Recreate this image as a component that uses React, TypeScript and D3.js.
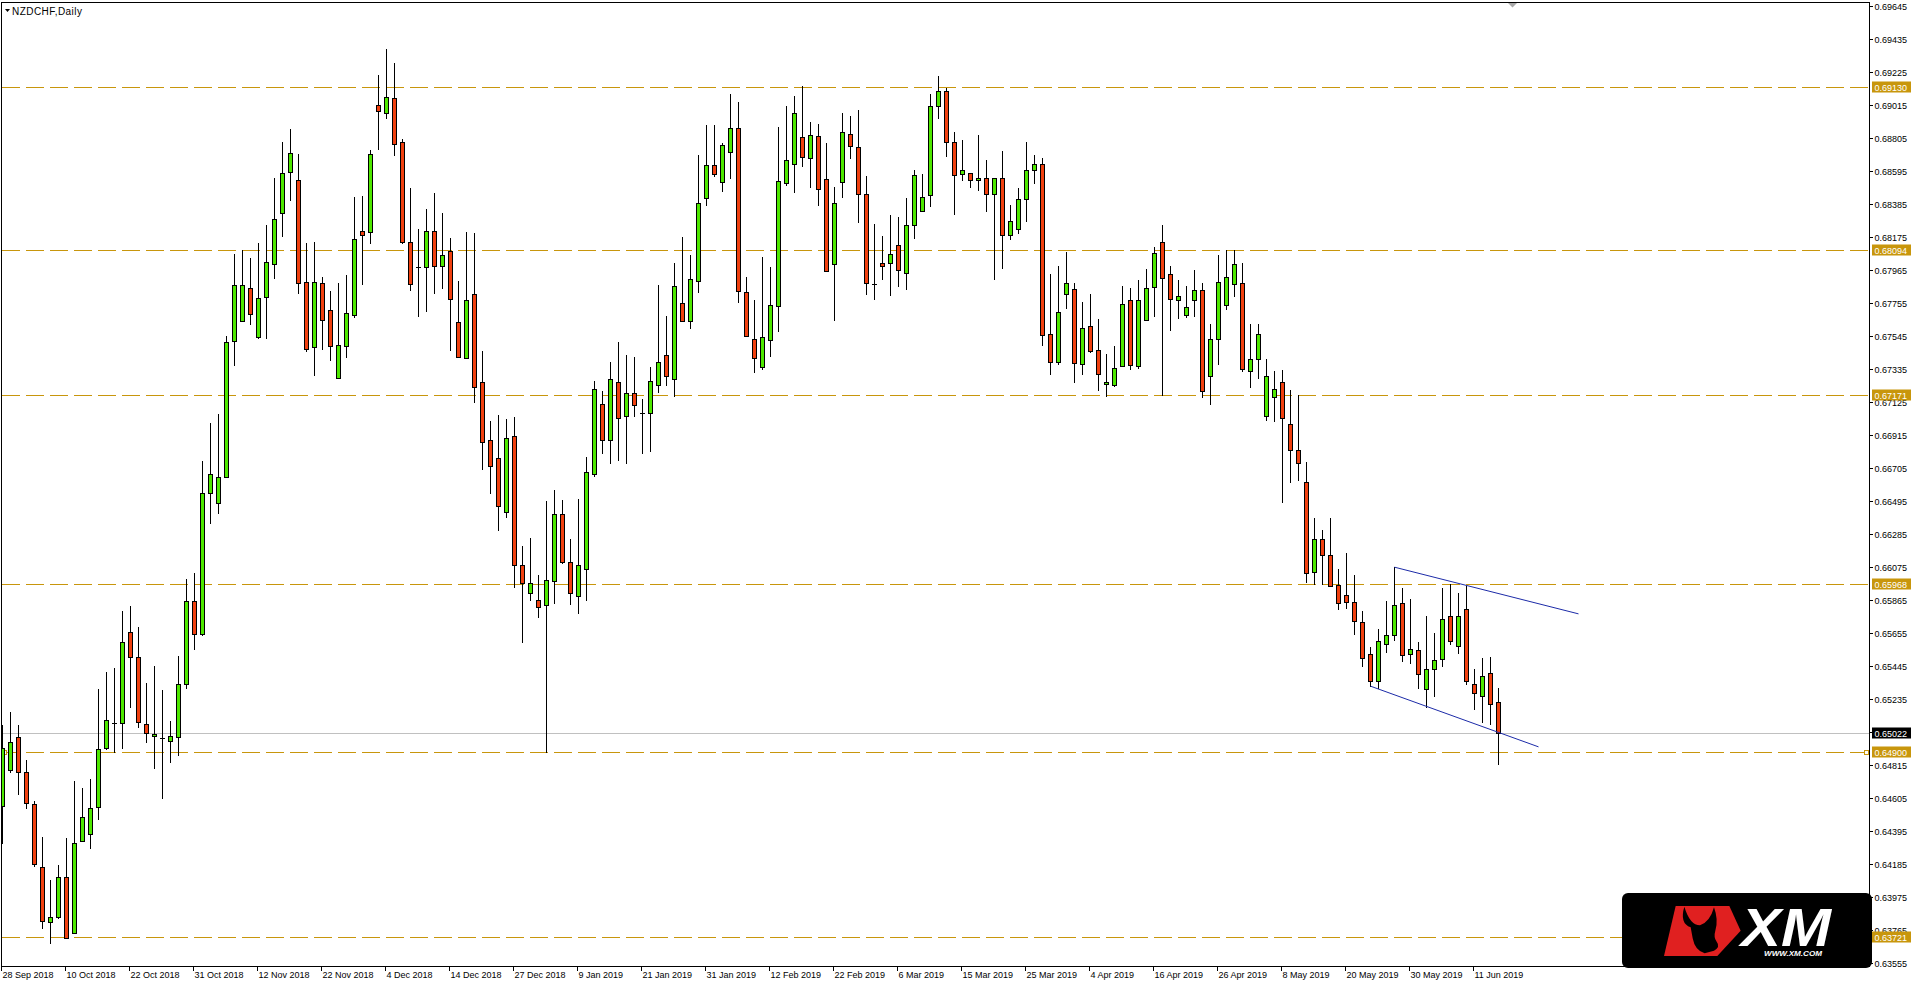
import React from 'react';
import * as d3 from 'd3';

// NZDCHF daily candles, 28 Sep 2018 .. 14 Jun 2019
const opens = [
  0.64557, 0.64785, 0.64995, 0.64773, 0.64569, 0.64168, 0.63818, 0.63847, 0.64104, 0.63750,
  0.64335, 0.64379, 0.64548, 0.64922, 0.65083, 0.65083, 0.65665, 0.65505, 0.65077, 0.65001,
  0.64987, 0.64970, 0.64995, 0.65332, 0.65858, 0.65650, 0.66548, 0.66483, 0.66650, 0.67512,
  0.67644, 0.67854, 0.67539, 0.67793, 0.68003, 0.68327, 0.68587, 0.68535, 0.67892, 0.67475,
  0.67886, 0.67714, 0.67276, 0.67483, 0.67682, 0.68213, 0.68205, 0.69013, 0.68967, 0.69060,
  0.68780, 0.68143, 0.67983, 0.67986, 0.68213, 0.67994, 0.68088, 0.67635, 0.67407, 0.67816,
  0.67250, 0.66882, 0.66768, 0.66429, 0.66907, 0.66090, 0.65913, 0.65869, 0.65832, 0.65989,
  0.66414, 0.66109, 0.65894, 0.66065, 0.66669, 0.67114, 0.66885, 0.67254, 0.67036, 0.67184,
  0.67053, 0.67058, 0.67232, 0.67425, 0.67274, 0.67758, 0.67644, 0.67898, 0.68425, 0.68635,
  0.68525, 0.68718, 0.68867, 0.67828, 0.67527, 0.67349, 0.67520, 0.67737, 0.68519, 0.68640,
  0.68812, 0.68678, 0.68818, 0.68545, 0.68004, 0.68526, 0.68831, 0.68748, 0.68449, 0.67877,
  0.68010, 0.68010, 0.68125, 0.67947, 0.68252, 0.68341, 0.68443, 0.69009, 0.69105, 0.68780,
  0.68577, 0.68583, 0.68538, 0.68551, 0.68449, 0.68551, 0.68189, 0.68225, 0.68420, 0.68600,
  0.68640, 0.67560, 0.67379, 0.67814, 0.67846, 0.67367, 0.67611, 0.67458, 0.67242, 0.67235,
  0.67356, 0.67776, 0.67356, 0.67649, 0.67859, 0.68145, 0.67941, 0.67776, 0.67680, 0.67776,
  0.67840, 0.67292, 0.67528, 0.67744, 0.67878, 0.67884, 0.67324, 0.67401, 0.67037, 0.67158,
  0.67250, 0.66986, 0.66821, 0.66617, 0.66045, 0.66255, 0.66153, 0.65964, 0.65899, 0.65854,
  0.65727, 0.65523, 0.65352, 0.65585, 0.65644, 0.65848, 0.65523, 0.65549, 0.65301, 0.65428,
  0.65491, 0.65767, 0.65574, 0.65810, 0.65332, 0.65256, 0.65402, 0.65218,
];

const highs = [
  0.65069, 0.65156, 0.65069, 0.64849, 0.64586, 0.64361, 0.64086, 0.64183, 0.64352, 0.64712,
  0.64668, 0.64730, 0.65297, 0.65405, 0.65434, 0.65794, 0.65829, 0.65692, 0.65338, 0.65449,
  0.65291, 0.65095, 0.65507, 0.65998, 0.66036, 0.66749, 0.66992, 0.67047, 0.67547, 0.68065,
  0.68094, 0.68041, 0.68140, 0.68254, 0.68552, 0.68777, 0.68865, 0.68701, 0.68140, 0.68146,
  0.67924, 0.67831, 0.67880, 0.67936, 0.68432, 0.68438, 0.68730, 0.69206, 0.69373, 0.69285,
  0.68800, 0.68485, 0.68228, 0.68356, 0.68453, 0.68327, 0.68167, 0.67898, 0.68210, 0.68199,
  0.67451, 0.67002, 0.67045, 0.67016, 0.67028, 0.66207, 0.66263, 0.66025, 0.66493, 0.66563,
  0.66501, 0.66252, 0.66507, 0.66773, 0.67257, 0.67198, 0.67378, 0.67506, 0.67422, 0.67411,
  0.67142, 0.67347, 0.67873, 0.67672, 0.68007, 0.68173, 0.68058, 0.68696, 0.68886, 0.68886,
  0.68772, 0.69088, 0.69032, 0.67918, 0.67777, 0.68051, 0.67987, 0.68878, 0.69011, 0.69075,
  0.69138, 0.68909, 0.68897, 0.68776, 0.68496, 0.68967, 0.68948, 0.68986, 0.68566, 0.68261,
  0.68184, 0.68318, 0.68305, 0.68424, 0.68604, 0.68579, 0.69088, 0.69202, 0.69126, 0.68844,
  0.68793, 0.68585, 0.68827, 0.68666, 0.68551, 0.68725, 0.68380, 0.68490, 0.68780, 0.68700,
  0.68680, 0.67937, 0.67988, 0.68077, 0.67884, 0.67765, 0.67816, 0.67651, 0.67428, 0.67485,
  0.67861, 0.67854, 0.67905, 0.67975, 0.68115, 0.68249, 0.67994, 0.67905, 0.67861, 0.67963,
  0.67886, 0.67625, 0.68058, 0.68094, 0.68094, 0.68013, 0.67625, 0.67620, 0.67400, 0.67320,
  0.67330, 0.67205, 0.67171, 0.66747, 0.66391, 0.66314, 0.66391, 0.66066, 0.66168, 0.66028,
  0.65799, 0.65570, 0.65684, 0.65863, 0.66075, 0.65945, 0.65875, 0.65602, 0.65767, 0.65659,
  0.65945, 0.65969, 0.65913, 0.65954, 0.65430, 0.65500, 0.65506, 0.65307,
];

const lows = [
  0.64323, 0.64770, 0.64630, 0.64542, 0.64171, 0.63777, 0.63686, 0.63841, 0.63715, 0.63747,
  0.64332, 0.64288, 0.64472, 0.64919, 0.64902, 0.64922, 0.65186, 0.65060, 0.64963, 0.64797,
  0.64607, 0.64835, 0.64879, 0.65308, 0.65557, 0.65642, 0.66355, 0.66419, 0.66650, 0.67360,
  0.67641, 0.67623, 0.67533, 0.67533, 0.67916, 0.68184, 0.68409, 0.67819, 0.67451, 0.67299,
  0.67463, 0.67393, 0.67276, 0.67410, 0.67667, 0.67875, 0.68137, 0.68733, 0.68932, 0.68695,
  0.68137, 0.67837, 0.67673, 0.67705, 0.67819, 0.67851, 0.67457, 0.67413, 0.67405, 0.67124,
  0.66701, 0.66546, 0.66312, 0.66395, 0.65950, 0.65597, 0.65866, 0.65757, 0.64897, 0.65846,
  0.66101, 0.65841, 0.65785, 0.65866, 0.66653, 0.66801, 0.66739, 0.66756, 0.66739, 0.67036,
  0.66801, 0.66815, 0.67190, 0.67235, 0.67165, 0.67638, 0.67596, 0.67825, 0.68380, 0.68562,
  0.68469, 0.68551, 0.67764, 0.67548, 0.67315, 0.67336, 0.67417, 0.67576, 0.68504, 0.68460,
  0.68625, 0.68492, 0.68377, 0.67957, 0.67646, 0.68428, 0.68676, 0.68269, 0.67811, 0.67779,
  0.67906, 0.67805, 0.67862, 0.67843, 0.68167, 0.68341, 0.68371, 0.68933, 0.68689, 0.68320,
  0.68536, 0.68492, 0.68473, 0.68339, 0.67906, 0.67976, 0.68160, 0.68200, 0.68276, 0.68520,
  0.67488, 0.67307, 0.67367, 0.67721, 0.67256, 0.67303, 0.67443, 0.67205, 0.67163, 0.67227,
  0.67354, 0.67335, 0.67341, 0.67649, 0.67672, 0.67172, 0.67583, 0.67659, 0.67668, 0.67672,
  0.67157, 0.67112, 0.67367, 0.67717, 0.67799, 0.67322, 0.67220, 0.67280, 0.67010, 0.67003,
  0.66488, 0.66615, 0.66632, 0.65979, 0.65969, 0.65969, 0.65954, 0.65807, 0.65814, 0.65648,
  0.65445, 0.65318, 0.65309, 0.65534, 0.65614, 0.65477, 0.65464, 0.65305, 0.65188, 0.65254,
  0.65445, 0.65585, 0.65528, 0.65330, 0.65173, 0.65089, 0.65076, 0.64824,
];

const closes = [
  0.64922, 0.64963, 0.64770, 0.64572, 0.64186, 0.63826, 0.63850, 0.64104, 0.63718, 0.64320,
  0.64487, 0.64542, 0.64919, 0.65104, 0.65083, 0.65601, 0.65501, 0.65092, 0.65022, 0.65013,
  0.64987, 0.64998, 0.65332, 0.65858, 0.65650, 0.66548, 0.66670, 0.66650, 0.67509, 0.67872,
  0.67872, 0.67688, 0.67790, 0.68018, 0.68292, 0.68584, 0.68713, 0.67883, 0.67463, 0.67892,
  0.67647, 0.67483, 0.67486, 0.67694, 0.68164, 0.68190, 0.68704, 0.68976, 0.69066, 0.68768,
  0.68146, 0.67878, 0.67983, 0.68213, 0.67994, 0.68064, 0.67778, 0.67413, 0.67775, 0.67221,
  0.66873, 0.66718, 0.66464, 0.66899, 0.66090, 0.65975, 0.65975, 0.65824, 0.65995, 0.66414,
  0.66109, 0.65913, 0.66090, 0.66683, 0.67207, 0.66885, 0.67274, 0.67025, 0.67184, 0.67109,
  0.67053, 0.67260, 0.67380, 0.67294, 0.67865, 0.67638, 0.67909, 0.68394, 0.68635, 0.68579,
  0.68763, 0.68867, 0.67834, 0.67548, 0.67406, 0.67540, 0.67743, 0.68532, 0.68666, 0.68965,
  0.68685, 0.68825, 0.68481, 0.67959, 0.68392, 0.68844, 0.68755, 0.68449, 0.67883, 0.67877,
  0.67991, 0.68068, 0.67966, 0.68252, 0.68570, 0.68430, 0.69009, 0.69105, 0.68780, 0.68570,
  0.68602, 0.68538, 0.68551, 0.68449, 0.68551, 0.68188, 0.68279, 0.68420, 0.68600, 0.68640,
  0.67551, 0.67379, 0.67700, 0.67884, 0.67373, 0.67598, 0.67449, 0.67305, 0.67254, 0.67343,
  0.67750, 0.67362, 0.67776, 0.67852, 0.68075, 0.67916, 0.67782, 0.67801, 0.67731, 0.67840,
  0.67195, 0.67528, 0.67890, 0.67922, 0.68005, 0.67335, 0.67401, 0.67560, 0.67290, 0.67209,
  0.67025, 0.66819, 0.66736, 0.66036, 0.66255, 0.66151, 0.65958, 0.65846, 0.65854, 0.65731,
  0.65496, 0.65352, 0.65606, 0.65644, 0.65835, 0.65517, 0.65555, 0.65394, 0.65428, 0.65485,
  0.65746, 0.65606, 0.65767, 0.65352, 0.65275, 0.65383, 0.65205, 0.65021,
];

const dateLabels = [
  '28 Sep 2018', '10 Oct 2018', '22 Oct 2018', '31 Oct 2018', '12 Nov 2018', '22 Nov 2018',
  '4 Dec 2018', '14 Dec 2018', '27 Dec 2018', '9 Jan 2019', '21 Jan 2019', '31 Jan 2019',
  '12 Feb 2019', '22 Feb 2019', '6 Mar 2019', '15 Mar 2019', '25 Mar 2019', '4 Apr 2019',
  '16 Apr 2019', '26 Apr 2019', '8 May 2019', '20 May 2019', '30 May 2019', '11 Jun 2019',
];

const priceTicks = [
  0.69645, 0.69435, 0.69225, 0.69015, 0.68805, 0.68595, 0.68385, 0.68175, 0.67965, 0.67755,
  0.67545, 0.67335, 0.67125, 0.66915, 0.66705, 0.66495, 0.66285, 0.66075, 0.65865, 0.65655,
  0.65445, 0.65235, 0.65025, 0.64815, 0.64605, 0.64395, 0.64185, 0.63975, 0.63765, 0.63555,
];

// horizontal support / resistance levels
const levels = [0.6913, 0.68094, 0.67171, 0.65968, 0.649, 0.63721];
const lastPrice = 0.65022;

// falling channel: [bar index, price]
const upperTrend: [number, number][] = [[174, 0.66075], [197, 0.65778]];
const lowerTrend: [number, number][] = [[171, 0.65318], [192, 0.64932]];

const W = 1917;
const H = 985;
const FONT = "'Liberation Sans', Arial, sans-serif";
const BULL = '#4ee800';
const BEAR = '#f0400f';
const GOLD = '#c8960c';

const x = d3.scaleLinear().domain([0, 187]).range([2.5, 2.5 + 187 * 8]);
const y = d3.scaleLinear().domain([0.69645, 0.63555]).range([6, 963.3]);
const py = (p: number) => Math.round(y(p));

const App: React.FC = () => {
  const fmt = d3.format('.5f');

  return (
    <svg width={W} height={H} style={{ position: 'absolute', left: 0, top: 0, display: 'block', background: '#fff' }}
      fontFamily={FONT}>
      <defs>
        <clipPath id="plot">
          <rect x={2} y={3} width={1867} height={963} />
        </clipPath>
      </defs>

      {/* level lines */}
      <g clipPath="url(#plot)">
        <line x1={2} x2={1869} y1={py(lastPrice) + 0.5} y2={py(lastPrice) + 0.5} stroke="#c0c0c0" />
        {levels.map((l) => (
          <line key={l} x1={2} x2={1869} y1={py(l) + 0.5} y2={py(l) + 0.5}
            stroke={GOLD} strokeDasharray="18 6" />
        ))}
        {/* selected line anchors */}
        <rect x={2.5} y={py(0.649) - 1.5} width={4} height={4} fill="#fff" stroke={GOLD} />
        <rect x={1864.5} y={py(0.649) - 1.5} width={4} height={4} fill="#fff" stroke={GOLD} />

        {/* candles */}
        {opens.map((o, i) => {
          const c = closes[i];
          const cx = x(i);
          const top = py(Math.max(o, c));
          const bot = py(Math.min(o, c));
          return (
            <g key={i}>
              <line x1={cx} x2={cx} y1={py(highs[i])} y2={py(lows[i]) + 1} stroke="#000" />
              {o === c ? (
                <line x1={cx - 2.5} x2={cx + 2.5} y1={top + 0.5} y2={top + 0.5} stroke="#000" />
              ) : (
                <rect x={cx - 2} y={top + 0.5} width={4} height={Math.max(bot - top, 1)}
                  fill={c > o ? BULL : BEAR} stroke="#000" />
              )}
            </g>
          );
        })}

        {/* channel */}
        {[upperTrend, lowerTrend].map((t, i) => (
          <line key={i} x1={x(t[0][0])} y1={y(t[0][1])} x2={x(t[1][0])} y2={y(t[1][1])}
            stroke="#1c2ba8" strokeWidth={1} />
        ))}
      </g>

      {/* frame */}
      <rect x={1.5} y={2.5} width={1868} height={964} fill="none" stroke="#000" />

      {/* chart shift marker */}
      <polygon points="1508,3 1517,3 1512.5,7.5" fill="#a8a8a8" />

      {/* title */}
      <polygon points="5,9 10,9 7.5,12" fill="#000" />
      <text x={12} y={15} fontSize={10} letterSpacing={0.45} fill="#000">NZDCHF,Daily</text>

      {/* price axis */}
      {priceTicks.map((t) => (
        <g key={t}>
          <line x1={1870} x2={1873} y1={py(t) + 0.5} y2={py(t) + 0.5} stroke="#000" />
          <text x={1874.5} y={py(t) + 3.5} fontSize={9} fill="#000">{fmt(t)}</text>
        </g>
      ))}
      {levels.map((l) => (
        <g key={l}>
          <rect x={1872} y={py(l) - 5.5} width={39} height={11} fill={GOLD} />
          <text x={1874.5} y={py(l) + 3.5} fontSize={9} fill="#fff">{fmt(l)}</text>
        </g>
      ))}
      <rect x={1872} y={py(lastPrice) - 5.5} width={39} height={11} fill="#000" />
      <text x={1874.5} y={py(lastPrice) + 3.5} fontSize={9} fill="#fff">{fmt(lastPrice)}</text>

      {/* time axis */}
      {dateLabels.map((d, i) => {
        const tx = x(i * 8) - 1;
        return (
          <g key={d}>
            <line x1={tx} x2={tx} y1={967} y2={971} stroke="#000" />
            <text x={tx + 1} y={978} fontSize={9} fill="#000">{d}</text>
          </g>
        );
      })}

      {/* XM logo */}
      <rect x={1622} y={893} width={250} height={75} rx={6} fill="#000" />
      <g transform="translate(1500,660) scale(0.33333)">
        <polygon points="492,888 527,738 688,738 722,812 652,888" fill="#e02020" />
        <path d="M553 740 Q538 790 572 802 L578 835 Q585 872 614 880 L642 872 Q662 860 650 845 Q640 832 646 812 Q656 780 642 742 Q630 786 600 796 Q570 796 553 740 Z"
          fill="#000" />
      </g>
      <text x={1741} y={946} fontSize={54} fontWeight={900} fontStyle="italic" fill="#fff"
        textLength={90} lengthAdjust="spacingAndGlyphs">XM</text>
      <text x={1764} y={956} fontSize={8} fontWeight={700} fontStyle="italic" fill="#fff"
        textLength={58} lengthAdjust="spacingAndGlyphs">WWW.XM.COM</text>
    </svg>
  );
};

export default App;
